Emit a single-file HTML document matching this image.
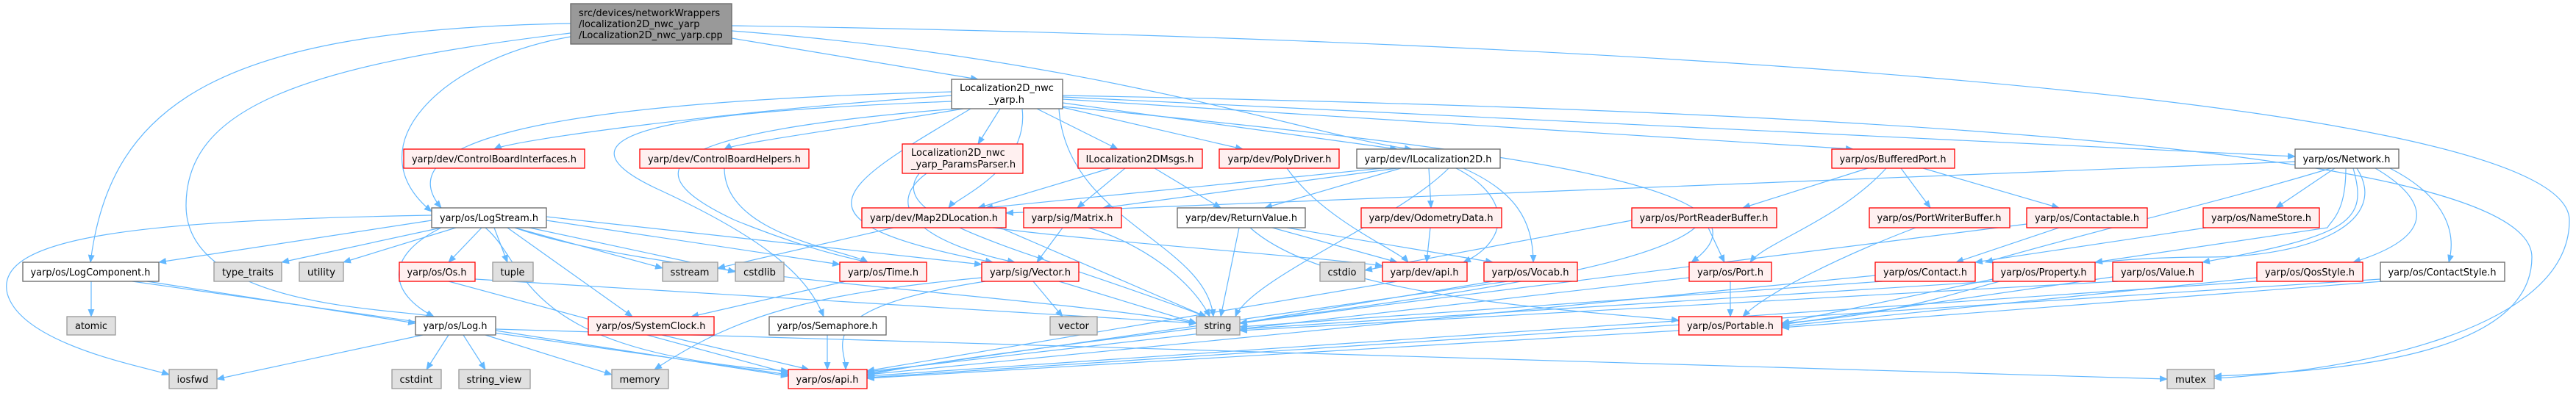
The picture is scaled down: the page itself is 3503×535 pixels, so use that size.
<!DOCTYPE html>
<html><head><meta charset="utf-8"><style>
html,body{margin:0;padding:0;background:#fff}
svg{display:block}
text{font-family:"DejaVu Sans","Liberation Sans",sans-serif;font-size:13px;fill:#000}
.e{fill:none;stroke:#63b8ff;stroke-width:1.2;marker-end:url(#a)}
.r{fill:#fff0f0;stroke:#ff0000;stroke-width:1.3}
.g{fill:#e0e0e0;stroke:#999;stroke-width:1.3}
.w{fill:#fff;stroke:#666;stroke-width:1.3}
</style></head><body>
<svg width="3503" height="535" viewBox="0 0 3503 535" xmlns="http://www.w3.org/2000/svg">
<defs><marker id="a" markerUnits="userSpaceOnUse" markerWidth="11" markerHeight="9" refX="10" refY="4.5" orient="auto"><path d="M0,0 L11,4.5 L0,9 z" fill="#63b8ff"/></marker></defs>
<g>
<path class="e" d="M776,32 C300,40 150,140 123,357"/>
<path class="e" d="M776,45 C400,90 253,150 253,280 C253,420 540,420 590,431"/>
<path class="e" d="M776,50 C600,80 480,200 587,288"/>
<path class="e" d="M995,35 C2000,50 3494,120 3494,300 C3494,450 3200,505 3011,515"/>
<path class="e" d="M995,52 L1330,108"/>
<path class="e" d="M995,42 C1500,80 1800,190 1920,203"/>
<path class="e" d="M1445,130 C2500,150 3443,200 3443,350 C3443,480 3200,505 3011,512"/>
<path class="e" d="M1294,130 C1000,150 700,190 672,203"/>
<path class="e" d="M1310,148 C1150,175 1000,195 985,203"/>
<path class="e" d="M1360,148 L1330,196"/>
<path class="e" d="M1390,148 C1400,230 1300,270 1290,283"/>
<path class="e" d="M1410,148 L1520,203"/>
<path class="e" d="M1440,145 L1690,203"/>
<path class="e" d="M1445,140 L1900,203"/>
<path class="e" d="M1445,135 L2520,203"/>
<path class="e" d="M1445,132 L3121,213"/>
<path class="e" d="M1294,125 C700,140 530,200 600,283"/>
<path class="e" d="M1300,148 C900,180 850,230 1000,300 C1100,340 1150,350 1180,357"/>
<path class="e" d="M1320,148 C1150,250 1050,300 1350,357"/>
<path class="e" d="M1440,148 C1450,300 1640,330 1650,431"/>
<path class="e" d="M1445,145 C2000,200 2450,250 2300,357"/>
<path class="e" d="M1294,138 C1000,150 700,170 900,260 C1050,330 1100,380 1120,431"/>
<path class="e" d="M1250,236 C1200,300 1400,340 1640,431"/>
<path class="e" d="M1260,236 C1200,280 1250,330 1380,357"/>
<path class="e" d="M985,229 C985,320 1150,340 1180,357"/>
<path class="e" d="M1530,229 L1465,283"/>
<path class="e" d="M1570,229 L1660,283"/>
<path class="e" d="M1510,229 L1330,283"/>
<path class="e" d="M1750,229 C1800,300 1900,340 1915,357"/>
<path class="e" d="M1880,229 L1340,283"/>
<path class="e" d="M1900,229 L1500,283"/>
<path class="e" d="M1905,229 L1720,283"/>
<path class="e" d="M1943,229 L1946,283"/>
<path class="e" d="M1980,229 C2060,270 2050,330 1990,357"/>
<path class="e" d="M1990,229 C2060,260 2085,300 2085,357"/>
<path class="e" d="M1970,229 C1900,300 1700,380 1680,431"/>
<path class="e" d="M1945,310 L1940,357"/>
<path class="e" d="M1445,310 L1410,357"/>
<path class="e" d="M1480,310 C1550,330 1620,380 1645,431"/>
<path class="e" d="M1685,310 L1660,431"/>
<path class="e" d="M1730,310 L1900,357"/>
<path class="e" d="M1750,310 L2030,357"/>
<path class="e" d="M1700,310 C1800,400 2100,420 2283,436"/>
<path class="e" d="M1215,310 L976,365"/>
<path class="e" d="M1350,310 C1500,330 1800,350 1880,362"/>
<path class="e" d="M1360,310 L1640,431"/>
<path class="e" d="M587,300 L216,357"/>
<path class="e" d="M600,310 L383,357"/>
<path class="e" d="M620,310 L467,357"/>
<path class="e" d="M655,310 L610,357"/>
<path class="e" d="M672,310 L690,357"/>
<path class="e" d="M700,310 L901,365"/>
<path class="e" d="M720,310 L1000,370"/>
<path class="e" d="M743,300 L1142,360"/>
<path class="e" d="M743,295 L1335,360"/>
<path class="e" d="M600,310 C520,350 530,400 590,431"/>
<path class="e" d="M690,310 L860,431"/>
<path class="e" d="M660,310 C720,360 700,480 1072,505"/>
<path class="e" d="M587,293 C200,300 -10,320 10,400 C30,470 200,500 230,510"/>
<path class="e" d="M700,310 C900,380 1400,400 1627,440"/>
<path class="e" d="M124,383 L124,431"/>
<path class="e" d="M200,383 L565,440"/>
<path class="e" d="M180,383 L1072,510"/>
<path class="e" d="M610,383 L1072,508"/>
<path class="e" d="M646,380 L1627,440"/>
<path class="e" d="M575,456 L295,516"/>
<path class="e" d="M610,456 L580,503"/>
<path class="e" d="M630,456 L660,503"/>
<path class="e" d="M660,456 L832,510"/>
<path class="e" d="M674,450 L1072,512"/>
<path class="e" d="M674,448 L2947,516"/>
<path class="e" d="M1150,383 L940,431"/>
<path class="e" d="M1405,383 L1445,431"/>
<path class="e" d="M1440,383 L1627,440"/>
<path class="e" d="M1340,383 C1100,420 1150,470 1150,503"/>
<path class="e" d="M1335,378 C1100,400 1000,430 890,503"/>
<path class="e" d="M900,456 L1100,503"/>
<path class="e" d="M1125,456 L1125,503"/>
<path class="e" d="M2540,229 L2370,283"/>
<path class="e" d="M2565,229 C2500,300 2400,330 2380,357"/>
<path class="e" d="M2585,229 L2625,283"/>
<path class="e" d="M2615,229 L2800,283"/>
<path class="e" d="M2323,310 L2345,357"/>
<path class="e" d="M2219,300 L1856,368"/>
<path class="e" d="M2305,310 C2200,400 1500,450 1179,510"/>
<path class="e" d="M2605,310 C2500,350 2400,400 2370,431"/>
<path class="e" d="M2353,383 L2353,431"/>
<path class="e" d="M2297,378 L1179,506"/>
<path class="e" d="M2800,310 L2660,357"/>
<path class="e" d="M2756,305 L1686,440"/>
<path class="e" d="M3170,229 C3000,280 2900,300 2700,357"/>
<path class="e" d="M3175,229 L3095,283"/>
<path class="e" d="M3190,229 C3190,290 3170,300 3165,310 L2849,357"/>
<path class="e" d="M3200,229 C3220,300 3200,320 2995,357"/>
<path class="e" d="M3230,229 C3300,270 3320,320 3200,357"/>
<path class="e" d="M3250,229 C3330,270 3340,320 3330,357"/>
<path class="e" d="M3205,229 C3250,300 3150,350 3000,350 C2700,350 2700,420 2423,440"/>
<path class="e" d="M3121,220 L1368,290"/>
<path class="e" d="M3000,310 L2686,357"/>
<path class="e" d="M2550,375 L1179,510"/>
<path class="e" d="M2560,383 L1686,445"/>
<path class="e" d="M2710,380 L2423,440"/>
<path class="e" d="M2710,383 L1686,448"/>
<path class="e" d="M2873,377 L2423,442"/>
<path class="e" d="M2880,383 L1686,450"/>
<path class="e" d="M3069,378 L2423,444"/>
<path class="e" d="M3069,383 L1179,512"/>
<path class="e" d="M3240,383 L2423,446"/>
<path class="e" d="M3237,380 L1179,514"/>
<path class="e" d="M2283,450 L1179,515"/>
<path class="e" d="M2050,383 L1179,508"/>
<path class="e" d="M2030,383 L1686,440"/>
<path class="e" d="M1900,383 L1179,505"/>
</g>
<g>
<rect x="776" y="5" width="219" height="55" fill="#999" stroke="#666" stroke-width="1.3"/>
<text x="787" y="22">src/devices/networkWrappers</text>
<text x="787" y="37">/localization2D_nwc_yarp</text>
<text x="787" y="52">/Localization2D_nwc_yarp.cpp</text>

<rect class="w" x="1294" y="108" width="151" height="40"/>
<text x="1369" y="124" text-anchor="middle">Localization2D_nwc</text>
<text x="1369" y="140" text-anchor="middle">_yarp.h</text>

<rect class="r" x="1227" y="196" width="164" height="40"/>
<text x="1239" y="212">Localization2D_nwc</text>
<text x="1239" y="228">_yarp_ParamsParser.h</text>
</g>
<g text-anchor="middle">
<rect class="r" x="549" y="203" width="246" height="26"/><text x="672" y="221" textLength="224" lengthAdjust="spacingAndGlyphs">yarp/dev/ControlBoardInterfaces.h</text>
<rect class="r" x="870" y="203" width="230" height="26"/><text x="985" y="221" textLength="208" lengthAdjust="spacingAndGlyphs">yarp/dev/ControlBoardHelpers.h</text>
<rect class="r" x="1466" y="203" width="169" height="26"/><text x="1550" y="221" textLength="147" lengthAdjust="spacingAndGlyphs">ILocalization2DMsgs.h</text>
<rect class="r" x="1658" y="203" width="163" height="26"/><text x="1740" y="221" textLength="141" lengthAdjust="spacingAndGlyphs">yarp/dev/PolyDriver.h</text>
<rect class="w" x="1845" y="203" width="195" height="26"/><text x="1942" y="221" textLength="173" lengthAdjust="spacingAndGlyphs">yarp/dev/ILocalization2D.h</text>
<rect class="r" x="2491" y="203" width="167" height="26"/><text x="2574" y="221" textLength="145" lengthAdjust="spacingAndGlyphs">yarp/os/BufferedPort.h</text>
<rect class="w" x="3121" y="203" width="141" height="26"/><text x="3191" y="221" textLength="119" lengthAdjust="spacingAndGlyphs">yarp/os/Network.h</text>

<rect class="w" x="587" y="283" width="156" height="27"/><text x="665" y="301" textLength="134" lengthAdjust="spacingAndGlyphs">yarp/os/LogStream.h</text>
<rect class="r" x="1172" y="283" width="196" height="27"/><text x="1270" y="301" textLength="174" lengthAdjust="spacingAndGlyphs">yarp/dev/Map2DLocation.h</text>
<rect class="r" x="1392" y="283" width="133" height="27"/><text x="1458" y="301" textLength="111" lengthAdjust="spacingAndGlyphs">yarp/sig/Matrix.h</text>
<rect class="w" x="1601" y="283" width="174" height="27"/><text x="1688" y="301" textLength="152" lengthAdjust="spacingAndGlyphs">yarp/dev/ReturnValue.h</text>
<rect class="r" x="1851" y="283" width="191" height="27"/><text x="1946" y="301" textLength="169" lengthAdjust="spacingAndGlyphs">yarp/dev/OdometryData.h</text>
<rect class="r" x="2219" y="283" width="197" height="27"/><text x="2317" y="301" textLength="175" lengthAdjust="spacingAndGlyphs">yarp/os/PortReaderBuffer.h</text>
<rect class="r" x="2542" y="283" width="191" height="27"/><text x="2637" y="301" textLength="169" lengthAdjust="spacingAndGlyphs">yarp/os/PortWriterBuffer.h</text>
<rect class="r" x="2756" y="283" width="164" height="27"/><text x="2838" y="301" textLength="142" lengthAdjust="spacingAndGlyphs">yarp/os/Contactable.h</text>
<rect class="r" x="2996" y="283" width="158" height="27"/><text x="3075" y="301" textLength="136" lengthAdjust="spacingAndGlyphs">yarp/os/NameStore.h</text>

<rect class="w" x="31" y="357" width="185" height="26"/><text x="123" y="375" textLength="163" lengthAdjust="spacingAndGlyphs">yarp/os/LogComponent.h</text>
<rect class="g" x="291" y="357" width="92" height="26"/><text x="337" y="375" textLength="70" lengthAdjust="spacingAndGlyphs">type_traits</text>
<rect class="g" x="407" y="357" width="60" height="26"/><text x="437" y="375" textLength="38" lengthAdjust="spacingAndGlyphs">utility</text>
<rect class="r" x="543" y="357" width="103" height="26"/><text x="594" y="375" textLength="81" lengthAdjust="spacingAndGlyphs">yarp/os/Os.h</text>
<rect class="g" x="670" y="357" width="55" height="26"/><text x="697" y="375" textLength="33" lengthAdjust="spacingAndGlyphs">tuple</text>
<rect class="g" x="901" y="357" width="75" height="26"/><text x="938" y="375" textLength="53" lengthAdjust="spacingAndGlyphs">sstream</text>
<rect class="g" x="1000" y="357" width="66" height="26"/><text x="1033" y="375" textLength="44" lengthAdjust="spacingAndGlyphs">cstdlib</text>
<rect class="r" x="1142" y="357" width="118" height="26"/><text x="1201" y="375" textLength="96" lengthAdjust="spacingAndGlyphs">yarp/os/Time.h</text>
<rect class="r" x="1335" y="357" width="132" height="26"/><text x="1401" y="375" textLength="110" lengthAdjust="spacingAndGlyphs">yarp/sig/Vector.h</text>
<rect class="g" x="1795" y="357" width="61" height="26"/><text x="1825" y="375" textLength="39" lengthAdjust="spacingAndGlyphs">cstdio</text>
<rect class="r" x="1880" y="357" width="115" height="26"/><text x="1937" y="375" textLength="93" lengthAdjust="spacingAndGlyphs">yarp/dev/api.h</text>
<rect class="r" x="2018" y="357" width="127" height="26"/><text x="2081" y="375" textLength="105" lengthAdjust="spacingAndGlyphs">yarp/os/Vocab.h</text>
<rect class="r" x="2297" y="357" width="112" height="26"/><text x="2353" y="375" textLength="90" lengthAdjust="spacingAndGlyphs">yarp/os/Port.h</text>
<rect class="r" x="2550" y="357" width="136" height="26"/><text x="2618" y="375" textLength="114" lengthAdjust="spacingAndGlyphs">yarp/os/Contact.h</text>
<rect class="r" x="2710" y="357" width="139" height="26"/><text x="2779" y="375" textLength="117" lengthAdjust="spacingAndGlyphs">yarp/os/Property.h</text>
<rect class="r" x="2873" y="357" width="122" height="26"/><text x="2934" y="375" textLength="100" lengthAdjust="spacingAndGlyphs">yarp/os/Value.h</text>
<rect class="r" x="3069" y="357" width="144" height="26"/><text x="3141" y="375" textLength="122" lengthAdjust="spacingAndGlyphs">yarp/os/QosStyle.h</text>
<rect class="w" x="3237" y="357" width="169" height="26"/><text x="3321" y="375" textLength="147" lengthAdjust="spacingAndGlyphs">yarp/os/ContactStyle.h</text>

<rect class="g" x="91" y="431" width="66" height="25"/><text x="124" y="448" textLength="44" lengthAdjust="spacingAndGlyphs">atomic</text>
<rect class="w" x="565" y="431" width="109" height="25"/><text x="619" y="448" textLength="87" lengthAdjust="spacingAndGlyphs">yarp/os/Log.h</text>
<rect class="r" x="800" y="431" width="171" height="25"/><text x="885" y="448" textLength="149" lengthAdjust="spacingAndGlyphs">yarp/os/SystemClock.h</text>
<rect class="w" x="1046" y="431" width="159" height="25"/><text x="1125" y="448" textLength="137" lengthAdjust="spacingAndGlyphs">yarp/os/Semaphore.h</text>
<rect class="g" x="1428" y="431" width="64" height="25"/><text x="1460" y="448" textLength="42" lengthAdjust="spacingAndGlyphs">vector</text>
<rect class="g" x="1627" y="431" width="59" height="25"/><text x="1656" y="448" textLength="37" lengthAdjust="spacingAndGlyphs">string</text>
<rect class="r" x="2283" y="431" width="140" height="25"/><text x="2353" y="448" textLength="118" lengthAdjust="spacingAndGlyphs">yarp/os/Portable.h</text>

<rect class="g" x="230" y="503" width="65" height="26"/><text x="262" y="521" textLength="43" lengthAdjust="spacingAndGlyphs">iosfwd</text>
<rect class="g" x="533" y="503" width="67" height="26"/><text x="566" y="521" textLength="45" lengthAdjust="spacingAndGlyphs">cstdint</text>
<rect class="g" x="624" y="503" width="97" height="26"/><text x="672" y="521" textLength="75" lengthAdjust="spacingAndGlyphs">string_view</text>
<rect class="g" x="832" y="503" width="77" height="26"/><text x="870" y="521" textLength="55" lengthAdjust="spacingAndGlyphs">memory</text>
<rect class="r" x="1072" y="503" width="107" height="26"/><text x="1125" y="521" textLength="85" lengthAdjust="spacingAndGlyphs">yarp/os/api.h</text>
<rect class="g" x="2947" y="503" width="64" height="26"/><text x="2979" y="521" textLength="42" lengthAdjust="spacingAndGlyphs">mutex</text>
</g>
</svg>
</body></html>
